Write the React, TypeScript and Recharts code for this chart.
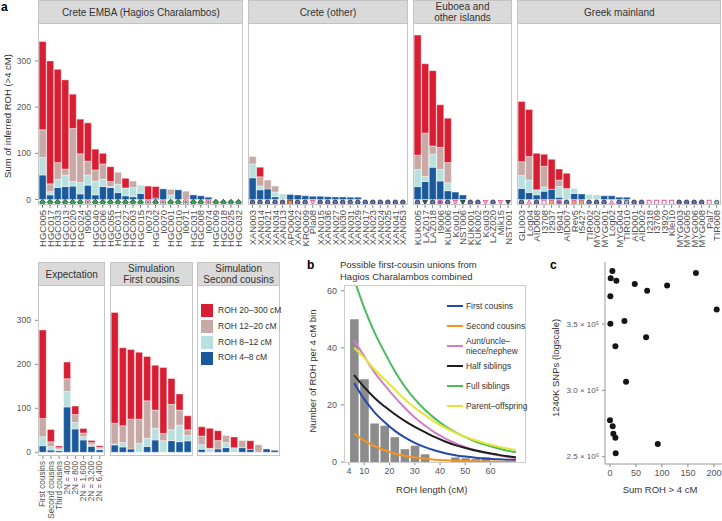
import React from "react";
import { BarChart, Bar, XAxis, YAxis, ComposedChart, Line, ScatterChart, Scatter } from "recharts";

const FONT = "'Liberation Sans', Arial, Helvetica, sans-serif";
const RED = "#d71e32";
const TAN = "#c8a9a6";
const LIGHT = "#b8e0df";
const BLUE = "#1a5a9c";

// ---- a: Crete EMBA (Hagios Charalambos) ----
const embaNames = ["HGC005", "HGC017", "HGC033", "HGC013", "HGC020", "HGC024", "I9005", "HGC040", "HGC006", "HGC055", "HGC011", "HGC027", "HGC003", "HGC015", "I0073", "HGC002", "I0070", "HGC001", "HGC010", "I0071", "HGC031", "HGC008", "I0074", "HGC009", "HGC018", "HGC025", "HGC032"];
const embaBlue = [53, 10, 26, 28, 29, 12, 31, 10, 28, 26, 15, 8, 6, 13, 0, 3, 23, 0, 21, 0, 10, 8, 5, 0, 0, 0, 0];
const embaLight = [38, 7, 18, 25, 10, 25, 22, 30, 16, 2, 18, 17, 20, 18, 0, 0, 0, 10, 0, 0, 0, 0, 0, 0, 0, 0, 0];
const embaTan = [60, 17, 36, 13, 115, 62, 30, 24, 33, 11, 26, 0, 14, 0, 0, 0, 0, 12, 0, 18, 0, 0, 0, 0, 0, 0, 0];
const embaRed = [191, 266, 202, 193, 74, 75, 83, 45, 23, 32, 0, 21, 0, 0, 29, 25, 0, 0, 0, 0, 0, 0, 0, 0, 0, 0, 0];
const embaMarks = ["g", "g", "g", "g", "g", "g", "gp", "g", "g", "g", "g", "g", "g", "g", "gp", "g", "gp", "g", "g", "gp", "g", "g", "gp", "g", "g", "g", "g"];

// ---- a: Crete (other) ----
const creteNames = ["XAN003", "XAN014", "XAN021", "XAN034", "XAN013", "APO004", "XAN022", "KRO009", "Pla08", "XAN015", "XAN036", "XAN027", "XAN030", "XAN031", "XAN029", "XAN017", "XAN023", "XAN024", "XAN025", "XAN041", "XAN053"];
const creteBlue = [47, 21, 23, 6, 0, 11, 10, 8, 7, 7, 6, 5.5, 5.5, 5, 5, 0, 0, 0, 0, 0, 0];
const creteLight = [30, 8, 0, 10, 12, 0, 0, 0, 0, 0, 0, 0, 0, 0, 0, 0, 0, 0, 0, 0, 0];
const creteTan = [16, 20, 19, 13, 0, 0, 0, 0, 0, 0, 0, 0, 0, 0, 0, 0, 0, 0, 0, 0, 0];
const creteRed = [0, 21, 0, 0, 0, 0, 0, 0, 0, 0, 0, 0, 0, 0, 0, 0, 0, 0, 0, 0, 0];
const creteMarks = ["s", "s", "s", "s", "s", "o", "s", "s", "tdp", "s", "s", "s", "s", "s", "s", "s", "s", "s", "s", "s", "s"];

// ---- a: Euboea and other islands ----
const euboeaNames = ["KUK005", "LAZ017", "LAZ018", "I9006", "KUK006", "Kou01", "NST006", "KUK001", "KUK002", "Kou03", "LAZ020", "Mik15", "NST001"];
const euboeaBlue = [28, 39, 70, 40, 19, 16, 10, 0, 0, 0, 0, 0, 0];
const euboeaLight = [37, 11, 28, 25, 17, 0, 0, 0, 0, 0, 0, 0, 0];
const euboeaTan = [31, 94, 18, 48, 44, 0, 0, 0, 0, 0, 0, 0, 0];
const euboeaRed = [260, 150, 163, 92, 96, 0, 0, 0, 0, 0, 0, 0, 0];
const euboeaMarks = ["s", "tdg", "s", "sp", "s", "tdp", "tdg", "s", "s", "tdp", "s", "tdp", "tdg"];

// ---- a: Greek mainland ----
const mainNames = ["GLI003", "Log04", "AID008", "I3708", "I2937", "I9041", "AID007", "Rev5", "I5427", "TIR002", "MYG002", "MYG001", "Log02", "MYG004", "TIR010", "AID001", "AID002", "I2318", "I3709", "I3920", "Klei10", "MYG003", "MYG005", "MYG006", "MYG008", "Pal7", "TIR008"];
const mainBlue = [24, 15, 10, 18, 22, 5, 0, 13, 12, 0, 0, 8, 8, 5, 5, 0, 0, 0, 0, 0, 0, 0, 0, 0, 0, 0, 0];
const mainLight = [28, 27, 11, 9, 0, 23, 24, 11, 0, 11, 10, 0, 0, 0, 0, 0, 0, 0, 0, 0, 0, 0, 0, 0, 0, 0, 0];
const mainTan = [30, 51, 0, 45, 0, 14, 0, 0, 0, 0, 0, 0, 0, 0, 0, 0, 0, 0, 0, 0, 0, 0, 0, 0, 0, 0, 0];
const mainRed = [130, 102, 79, 26, 65, 24, 33, 0, 0, 0, 0, 0, 0, 0, 0, 0, 0, 0, 0, 0, 0, 0, 0, 0, 0, 0, 0];
const mainMarks = ["s", "tu", "s", "sq", "sqo", "sp", "s", "sqo", "sqo", "s", "s", "s", "tu", "s", "lbc", "s", "s", "sq", "sq", "sq", "sq", "s", "s", "s", "s", "sq", "pent"];

// ---- a: Expectation / simulations ----
const expNames = ["First cousins", "Second cousins", "Third cousins", "2N = 400", "2N = 800", "2N = 1,600", "2N = 3,200", "2N = 6,400"];
const expBlue = [15, 5, 3.8, 103, 53, 28, 13.6, 6];
const expLight = [20.6, 8, 3.8, 35, 15, 7.6, 3.8, 2.3];
const expTan = [41.4, 11, 3, 29, 18, 8.4, 4.6, 3];
const expRed = [201, 28, 3.8, 38, 19, 10, 5, 3.6];

const simNames = ["1", "2", "3", "4", "5", "6", "7", "8", "9", "10"];
const sim1Blue = [16.7, 12, 7.6, 0, 13, 28, 0, 26.5, 24, 26];
const sim1Light = [2.3, 10, 0, 20.5, 19, 26.5, 26.5, 24.5, 38, 12];
const sim1Tan = [47, 38.6, 68, 55, 85, 41.5, 16.5, 58, 34, 13];
const sim1Red = [252, 177, 158, 152, 101, 102, 150, 59, 36.6, 32];

const sim2Blue = [7, 0, 7.6, 10.6, 0, 10.6, 6.8, 0, 7.6, 4.5];
const sim2Light = [10, 9, 0, 11.4, 10.6, 0, 0, 0, 0, 0];
const sim2Tan = [20, 0, 19, 16, 0, 16, 0, 17.4, 0, 0];
const sim2Red = [21, 45.5, 22.5, 0, 24.4, 0, 19.7, 0, 0, 0];

const rohLabels = ["ROH 20–300 cM", "ROH 12–20 cM", "ROH 8–12 cM", "ROH 4–8 cM"];
const rohColors = [RED, TAN, LIGHT, BLUE];

// ---- b ----
const bLength = [6, 10, 14, 18, 22, 26, 30, 34, 38, 42, 46, 50, 54, 58, 62, 66, 70];
const bObserved = [50, 29, 13.5, 12.7, 8.7, 4.5, 5.7, 2.7, 0, 0, 1.6, 1.3, 1, 1.6, 0, 0, 0];
const bFirstCousins = [27.7, 22, 17.5, 14, 11, 8.6, 6.7, 5.2, 4, 3.1, 2.4, 1.9, 1.5, 1.2, 1, 0.8, 0.7];
const bSecondCousins = [10, 7.5, 5.6, 4.1, 3, 2.2, 1.6, 1.2, 0.8, 0.6, 0.45, 0.35, 0.25, 0.2, 0.15, 0.1, 0.08];
const bAuntUncle = [42.7, 37, 31.5, 27, 22.8, 19, 15.6, 12.8, 10.3, 8.3, 6.6, 5.2, 4.1, 3.2, 2.5, 1.9, 1.4];
const bHalfSib = [30.4, 26.2, 22.5, 19.5, 16.8, 14.4, 12.3, 10.5, 8.7, 7.2, 5.9, 4.9, 4, 3.3, 2.7, 2.1, 1.7];
const bFullSib = [64, 54, 45.5, 38.5, 32, 26.5, 22, 18.3, 15.2, 12.6, 10.5, 8.7, 7.2, 6, 5, 4.1, 3.4];
const bParent = [40, 36.5, 32.5, 29, 25.5, 22, 19, 16.5, 14, 12, 10.3, 8.8, 7.6, 6.5, 5.6, 4.8, 4.2];
const bSeries = [
  { key: "fc", label: "First cousins", color: "#2449a8" },
  { key: "sc", label: "Second cousins", color: "#f7941d" },
  { key: "au", label: "Aunt/uncle–\nniece/nephew", color: "#cf7fc6" },
  { key: "hs", label: "Half siblings", color: "#1e1e1e" },
  { key: "fs", label: "Full siblings", color: "#4dbb5c" },
  { key: "po", label: "Parent–offspring", color: "#e2e53a" },
];

// ---- c ----
const cSumRoh = [4.6, 1.4, 12.3, 0.7, 47.7, 71.5, 110, 165.4, 205.4, 0.7, 27.8, 69.5, 10.4, 30.9, 0, 5.2, 6.5, 10.4, 92, 11];
const cSnps = [390000, 384500, 382700, 371000, 380200, 375200, 379000, 388500, 360900, 350300, 352300, 340000, 333300, 306600, 277400, 272900, 267300, 264300, 259600, 252600];

type Row = { name: string; blue: number; lb: number; tan: number; red: number; mark?: string };

function rows(names: string[], blue: number[], lb: number[], tan: number[], red: number[], marks?: string[]): Row[] {
  return names.map((name, i) => ({ name, blue: blue[i], lb: lb[i], tan: tan[i], red: red[i], mark: marks ? marks[i] : undefined }));
}

function Marker({ x, y, kind }: { x: number; y: number; kind?: string }) {
  const r = 2.3;
  const dark = "#272a3c";
  const pink = "#ea5a9d";
  const slate = "#6670b2";
  const diamond = (s: number) => `M${x},${y - s}L${x + s},${y}L${x},${y + s}L${x - s},${y}Z`;
  switch (kind) {
    case "g":
      return <path d={diamond(r + 0.7)} fill="#39a058" stroke="#1b3a27" strokeWidth={0.8} />;
    case "gp":
      return (
        <g>
          <circle cx={x} cy={y} r={r + 0.2} fill="#fff" stroke={pink} strokeWidth={1.1} />
          <path d={diamond(r - 0.6)} fill="#39a058" />
        </g>
      );
    case "s":
      return <circle cx={x} cy={y} r={r} fill={slate} stroke={dark} strokeWidth={0.8} />;
    case "sp":
      return <circle cx={x} cy={y} r={r} fill={slate} stroke={pink} strokeWidth={1.1} />;
    case "lbc":
      return <circle cx={x} cy={y} r={r} fill="#a5b8e0" stroke={dark} strokeWidth={0.8} />;
    case "o":
      return <rect x={x - r} y={y - r} width={2 * r} height={2 * r} fill="#f08a3c" stroke={dark} strokeWidth={0.8} />;
    case "sq":
      return <rect x={x - r + 0.3} y={y - r + 0.3} width={2 * r - 0.6} height={2 * r - 0.6} fill="#fff" stroke={pink} strokeWidth={1} />;
    case "sqo":
      return <rect x={x - r + 0.3} y={y - r + 0.3} width={2 * r - 0.6} height={2 * r - 0.6} fill="#f2a35c" stroke={pink} strokeWidth={1} />;
    case "tdp":
      return <path d={`M${x - r},${y - r + 0.5}L${x + r},${y - r + 0.5}L${x},${y + r}Z`} fill="#f7b3cf" stroke={pink} strokeWidth={0.9} />;
    case "tdg":
      return <path d={`M${x - r},${y - r + 0.5}L${x + r},${y - r + 0.5}L${x},${y + r}Z`} fill="#2e6e3e" stroke={dark} strokeWidth={0.8} />;
    case "tu":
      return <path d={`M${x - r},${y + r - 0.3}L${x + r},${y + r - 0.3}L${x},${y - r}Z`} fill="#f7b3cf" stroke={pink} strokeWidth={0.9} />;
    case "pent":
      return <circle cx={x} cy={y} r={r - 0.3} fill="#8fd3cf" stroke={dark} strokeWidth={0.8} />;
    default:
      return null;
  }
}

function SampleTick(props: any) {
  const { x, y, payload, marks, size } = props;
  const kind = marks ? marks[payload.value] : undefined;
  return (
    <g>
      {kind && <Marker x={x} y={y - 7.7} kind={kind} />}
      <text
        transform={`translate(${x},${y}) rotate(-90)`}
        textAnchor="end"
        dominantBaseline="central"
        fontSize={size}
        fill="#505050"
      >
        {payload.value}
      </text>
    </g>
  );
}

type FacetProps = {
  left: number;
  top: number;
  width: number;
  stripH: number;
  plotH: number;
  labelH: number;
  title: string[];
  data: Row[];
  domain: [number, number];
  yTicks?: number[];
  marked?: boolean;
  labelFont?: number;
};

function Facet(p: FacetProps) {
  const axisW = p.yTicks ? 40 : 0;
  const n = p.data.length;
  const pad = (0.1 * p.width) / (n + 0.2);
  const marks: Record<string, string> = {};
  if (p.marked) p.data.forEach((d) => { if (d.mark) marks[d.name] = d.mark; });
  return (
    <>
      <div
        style={{
          position: "absolute", left: p.left, top: p.top, width: p.width, height: p.stripH,
          background: "#dadada", border: "1px solid #c3c3c3", boxSizing: "border-box",
          display: "flex", flexDirection: "column", alignItems: "center", justifyContent: "center",
          fontSize: 10, lineHeight: "11px", color: "#333", textAlign: "center",
        }}
      >
        {p.title.map((t) => <div key={t}>{t}</div>)}
      </div>
      <div style={{ position: "absolute", left: p.left - axisW, top: p.top + p.stripH }}>
        <BarChart
          width={p.width + axisW}
          height={p.plotH + p.labelH}
          data={p.data}
          margin={{ top: 0, right: 0, left: 0, bottom: 0 }}
          barCategoryGap="5%"
        >
          <XAxis
            dataKey="name"
            interval={0}
            height={p.labelH}
            hide={p.labelH === 0}
            padding={{ left: pad, right: pad }}
            axisLine={false}
            tickSize={3}
            tickMargin={2}
            tickLine={{ stroke: "#8a8a8a" }}
            tick={(tp: any) => <SampleTick {...tp} marks={marks} size={p.labelFont ?? 9.5} />}
          />
          <YAxis
            type="number"
            width={axisW}
            hide={!p.yTicks}
            domain={p.domain}
            allowDataOverflow
            ticks={p.yTicks}
            axisLine={false}
            tickSize={3}
            tickMargin={4}
            tickLine={{ stroke: "#8a8a8a" }}
            tick={{ fontSize: 8.5, fill: "#555" }}
          />
          <Bar dataKey="blue" stackId="r" fill={BLUE} stroke="#fff" strokeWidth={0.4} isAnimationActive={false} />
          <Bar dataKey="lb" stackId="r" fill={LIGHT} stroke="#fff" strokeWidth={0.4} isAnimationActive={false} />
          <Bar dataKey="tan" stackId="r" fill={TAN} stroke="#fff" strokeWidth={0.4} isAnimationActive={false} />
          <Bar dataKey="red" stackId="r" fill={RED} stroke="#fff" strokeWidth={0.4} isAnimationActive={false} />
        </BarChart>
      </div>
      <div
        style={{
          position: "absolute", left: p.left, top: p.top + p.stripH - 1, width: p.width, height: p.plotH + 1,
          border: "1px solid #c6c6c6", borderTop: "none", boxSizing: "border-box", pointerEvents: "none",
        }}
      />
    </>
  );
}

function VText({ x, y, size, children }: { x: number; y: number; size: number; children: React.ReactNode }) {
  return (
    <div
      style={{
        position: "absolute", left: x, top: y, transform: "translate(-50%,-50%) rotate(-90deg)",
        whiteSpace: "nowrap", fontSize: size, color: "#333",
      }}
    >
      {children}
    </div>
  );
}

function Txt({ x, y, size, bold, children }: { x: number; y: number; size: number; bold?: boolean; children: React.ReactNode }) {
  return (
    <div style={{ position: "absolute", left: x, top: y, fontSize: size, fontWeight: bold ? 700 : 400, color: bold ? "#000" : "#333", whiteSpace: "nowrap", lineHeight: 1.2 }}>
      {children}
    </div>
  );
}

function SciTick(props: any) {
  const { x, y, payload } = props;
  return (
    <text x={x} y={y} textAnchor="end" dominantBaseline="central" fontSize={8} fill="#555">
      {`${(payload.value / 100000).toFixed(1)} × 10⁵`}
    </text>
  );
}

export default function App() {
  const topDomain: [number, number] = [-11.9, 380];
  const botDomain: [number, number] = [-8.4, 378];
  const bData = bLength.map((x, i) => ({
    x, obs: bObserved[i], fc: bFirstCousins[i], sc: bSecondCousins[i], au: bAuntUncle[i],
    hs: bHalfSib[i], fs: bFullSib[i], po: bParent[i],
  }));
  const cData = cSumRoh.map((v, i) => ({ roh: v, snps: cSnps[i] }));

  return (
    <div style={{ position: "absolute", left: 0, top: 0, width: 722, height: 521, background: "#fff", fontFamily: FONT, overflow: "hidden" }}>
      <Txt x={1} y={0} size={12} bold>a</Txt>
      <VText x={7} y={116} size={9.5}>Sum of inferred ROH (&gt;4 cM)</VText>

      <Facet left={38.3} top={0} width={205} stripH={24} plotH={181} labelH={55} title={["Crete EMBA (Hagios Charalambos)"]}
        data={rows(embaNames, embaBlue, embaLight, embaTan, embaRed, embaMarks)} domain={topDomain} yTicks={[0, 100, 200, 300]} marked />
      <Facet left={248.3} top={0} width={159.4} stripH={24} plotH={181} labelH={55} title={["Crete (other)"]}
        data={rows(creteNames, creteBlue, creteLight, creteTan, creteRed, creteMarks)} domain={topDomain} marked />
      <Facet left={412.7} top={0} width={99.6} stripH={24} plotH={181} labelH={55} title={["Euboea and", "other islands"]}
        data={rows(euboeaNames, euboeaBlue, euboeaLight, euboeaTan, euboeaRed, euboeaMarks)} domain={topDomain} marked />
      <Facet left={517.3} top={0} width={204.2} stripH={24} plotH={181} labelH={55} title={["Greek mainland"]}
        data={rows(mainNames, mainBlue, mainLight, mainTan, mainRed, mainMarks)} domain={topDomain} marked />

      <Facet left={38.3} top={262} width={66.7} stripH={24} plotH={170} labelH={65} title={["Expectation"]} labelFont={8.2}
        data={rows(expNames, expBlue, expLight, expTan, expRed)} domain={botDomain} yTicks={[0, 100, 200, 300]} />
      <Facet left={110} top={262} width={82.7} stripH={24} plotH={170} labelH={0} title={["Simulation", "First cousins"]}
        data={rows(simNames, sim1Blue, sim1Light, sim1Tan, sim1Red)} domain={botDomain} />
      <Facet left={197.3} top={262} width={82.7} stripH={24} plotH={170} labelH={0} title={["Simulation", "Second cousins"]}
        data={rows(simNames, sim2Blue, sim2Light, sim2Tan, sim2Red)} domain={botDomain} />

      {rohLabels.map((label, i) => (
        <React.Fragment key={label}>
          <div style={{ position: "absolute", left: 200, top: 303.3 + i * 15.8, width: 14, height: 15, background: rohColors[i], border: "0.5px solid #fff", boxSizing: "border-box" }} />
          <Txt x={218} y={305 + i * 15.8} size={8.5}>{label}</Txt>
        </React.Fragment>
      ))}

      {/* b */}
      <Txt x={307} y={258} size={12} bold>b</Txt>
      <Txt x={340} y={259} size={9.5}>Possible first-cousin unions from</Txt>
      <Txt x={340} y={270.5} size={9.5}>Hagios Charalambos combined</Txt>
      <VText x={312} y={371} size={9.5}>Number of ROH per 4 cM bin</VText>
      <div style={{ position: "absolute", left: 300, top: 280 }}>
        <ComposedChart width={228} height={212} data={bData} margin={{ top: 5, right: 2, left: 0, bottom: 0 }}>
          <XAxis dataKey="x" type="number" domain={[2, 74]} allowDataOverflow ticks={[4, 10, 20, 30, 40, 50, 60]} height={30}
            axisLine={false} tickSize={3} tickMargin={3} tickLine={{ stroke: "#8a8a8a" }} tick={{ fontSize: 9, fill: "#555" }} />
          <YAxis type="number" domain={[0, 62]} allowDataOverflow ticks={[0, 20, 40, 60]} width={44}
            axisLine={false} tickSize={3} tickMargin={4} tickLine={{ stroke: "#8a8a8a" }} tick={{ fontSize: 9, fill: "#555" }} />
          <Bar dataKey="obs" fill="#8c8c8c" barSize={8.6} isAnimationActive={false} />
          {bSeries.map((s) => (
            <Line key={s.key} type="monotone" dataKey={s.key} stroke={s.color} strokeWidth={2} dot={false} isAnimationActive={false} />
          ))}
        </ComposedChart>
      </div>
      <div style={{ position: "absolute", left: 344, top: 285, width: 182, height: 177.5, border: "1px solid #cdcdcd", boxSizing: "border-box", pointerEvents: "none" }} />
      {bSeries.map((s, i) => {
        const ys = [305.7, 325.7, 346, 366, 386, 406];
        const lines = s.label.split("\n");
        return (
          <React.Fragment key={s.key}>
            <div style={{ position: "absolute", left: 447, top: ys[i] - 1, width: 15.5, height: 2, background: s.color }} />
            <div style={{ position: "absolute", left: 466, top: ys[i] - (lines.length * 10) / 2, fontSize: 8.4, lineHeight: "10px", color: "#333", whiteSpace: "nowrap" }}>
              {lines.map((l) => <div key={l}>{l}</div>)}
            </div>
          </React.Fragment>
        );
      })}
      <div style={{ position: "absolute", left: 431.7, top: 489, transform: "translate(-50%,-50%)", fontSize: 9.5, color: "#333", whiteSpace: "nowrap" }}>ROH length (cM)</div>

      {/* c */}
      <Txt x={550} y={258} size={12} bold>c</Txt>
      <VText x={555} y={368} size={9.5}>1240K SNPs (logscale)</VText>
      <div style={{ position: "absolute", left: 550, top: 258 }}>
        <ScatterChart width={172} height={230} margin={{ top: 4, right: 0, left: 0, bottom: 0 }}>
          <XAxis type="number" dataKey="roh" domain={[-9.6, 215.6]} allowDataOverflow ticks={[0, 50, 100, 150, 200]} height={24}
            axisLine={{ stroke: "#9a9a9a" }} tickSize={3} tickMargin={3} tickLine={{ stroke: "#8a8a8a" }} tick={{ fontSize: 9, fill: "#555" }} />
          <YAxis type="number" dataKey="snps" domain={[244500, 396800]} allowDataOverflow ticks={[250000, 300000, 350000]} width={55}
            axisLine={{ stroke: "#9a9a9a" }} tickSize={3} tickMargin={3} tickLine={{ stroke: "#8a8a8a" }}
            tick={(tp: any) => <SciTick {...tp} />} />
          <Scatter data={cData} fill="#151515" isAnimationActive={false}
            shape={(pp: any) => <circle cx={pp.cx} cy={pp.cy} r={3} fill="#151515" />} />
        </ScatterChart>
      </div>
      <div style={{ position: "absolute", left: 660, top: 489, transform: "translate(-50%,-50%)", fontSize: 9.5, color: "#333", whiteSpace: "nowrap" }}>Sum ROH &gt; 4 cM</div>
    </div>
  );
}
